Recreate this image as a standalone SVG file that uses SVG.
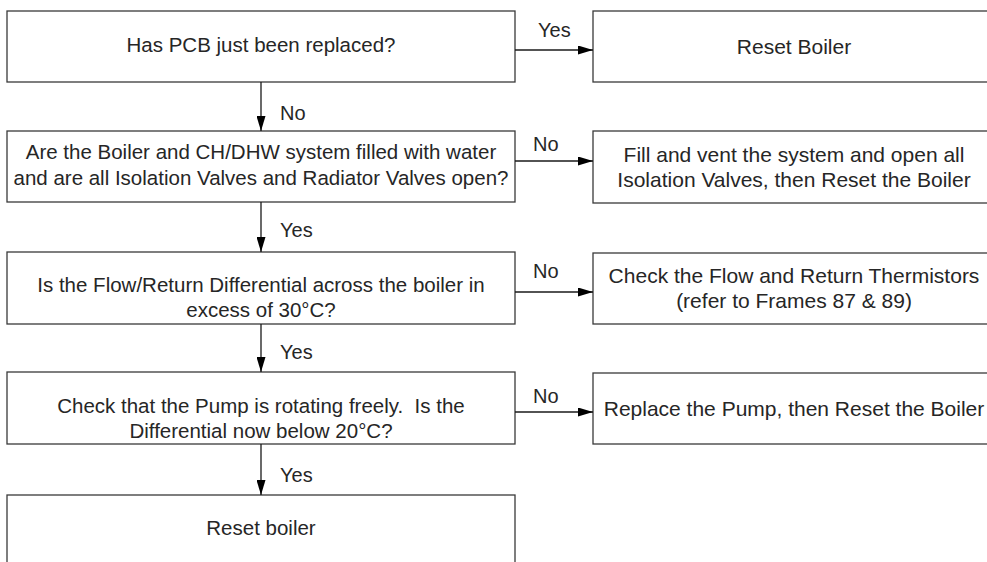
<svg xmlns="http://www.w3.org/2000/svg" width="987" height="562" viewBox="0 0 987 562">
<defs>
<style>
.box{fill:#ffffff;stroke:#3a3a3a;stroke-width:1.3}
.t{font-family:"Liberation Sans",Arial,Helvetica,sans-serif;font-size:20.5px;fill:#262626;text-anchor:middle}
.r{font-size:21px}
.pre{white-space:pre}
.lbl{font-family:"Liberation Sans",Arial,Helvetica,sans-serif;font-size:20px;fill:#262626}
.c{fill:none;stroke:#1a1a1a;stroke-width:1.3}
</style>
<marker id="ah" viewBox="0 0 15 9" refX="15" refY="4.5" markerWidth="15" markerHeight="9" markerUnits="userSpaceOnUse" orient="auto">
<path d="M0,0 L15,4.5 L0,9 Z" fill="#000"/>
</marker>
</defs>
<rect width="987" height="562" fill="#ffffff"/>
<g id="q1">
<rect class="box" x="7" y="11" width="508" height="71"/>
<text class="t" x="261" y="52">Has PCB just been replaced?</text>
</g>
<g id="a1">
<rect class="box" x="593" y="11" width="402" height="71"/>
<text class="t r" x="794" y="54">Reset Boiler</text>
</g>
<g id="q2">
<rect class="box" x="7" y="131" width="508" height="71"/>
<text class="t" x="261" y="159">Are the Boiler and CH/DHW system filled with water</text>
<text class="t" x="261" y="185">and are all Isolation Valves and Radiator Valves open?</text>
</g>
<g id="a2">
<rect class="box" x="593" y="131" width="402" height="72"/>
<text class="t r" x="794" y="162">Fill and vent the system and open all</text>
<text class="t r" x="794" y="187">Isolation Valves, then Reset the Boiler</text>
</g>
<g id="q3">
<rect class="box" x="7" y="252" width="508" height="72"/>
<text class="t" x="261" y="292">Is the Flow/Return Differential across the boiler in</text>
<text class="t" x="261" y="317">excess of 30°C?</text>
</g>
<g id="a3">
<rect class="box" x="593" y="253" width="402" height="71"/>
<text class="t r" x="794" y="283">Check the Flow and Return Thermistors</text>
<text class="t r" x="794" y="308">(refer to Frames 87 &amp; 89)</text>
</g>
<g id="q4">
<rect class="box" x="7" y="372" width="508" height="72"/>
<text class="t pre" x="261" y="413" xml:space="preserve">Check that the Pump is rotating freely.  Is the</text>
<text class="t" x="261" y="438">Differential now below 20°C?</text>
</g>
<g id="a4">
<rect class="box" x="593" y="373" width="402" height="71"/>
<text class="t r" x="794" y="416">Replace the Pump, then Reset the Boiler</text>
</g>
<g id="end">
<rect class="box" x="7" y="495" width="508" height="80"/>
<text class="t" x="261" y="535">Reset boiler</text>
</g>
<g id="connectors">
<line class="c" x1="515" y1="50" x2="593" y2="50" marker-end="url(#ah)"/>
<line class="c" x1="515" y1="161" x2="593" y2="161" marker-end="url(#ah)"/>
<line class="c" x1="515" y1="292" x2="593" y2="292" marker-end="url(#ah)"/>
<line class="c" x1="515" y1="412" x2="593" y2="412" marker-end="url(#ah)"/>
<line class="c" x1="261" y1="82" x2="261" y2="131" marker-end="url(#ah)"/>
<line class="c" x1="261" y1="202" x2="261" y2="252" marker-end="url(#ah)"/>
<line class="c" x1="261" y1="324" x2="261" y2="372" marker-end="url(#ah)"/>
<line class="c" x1="261" y1="444" x2="261" y2="495" marker-end="url(#ah)"/>
<text class="lbl" x="538" y="37">Yes</text>
<text class="lbl" x="533" y="151">No</text>
<text class="lbl" x="533" y="278">No</text>
<text class="lbl" x="533" y="403">No</text>
<text class="lbl" x="280" y="120">No</text>
<text class="lbl" x="280" y="237">Yes</text>
<text class="lbl" x="280" y="359">Yes</text>
<text class="lbl" x="280" y="482">Yes</text>
</g>
</svg>
